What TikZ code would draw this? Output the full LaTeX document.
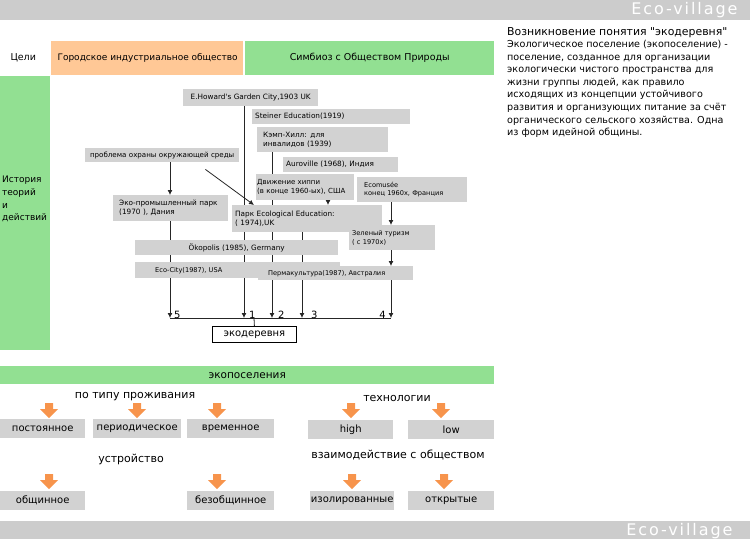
\documentclass[tikz,border=0pt]{standalone}
\usepackage{fontspec}
\setmainfont{DejaVu Sans}[Ligatures=TeXOff]
\newfontfamily\bannerfont[LetterSpace=12]{DejaVu Sans}
\usetikzlibrary{arrows.meta, calc, backgrounds}
\definecolor{bargray}{RGB}{204,204,204}
\definecolor{boxgray}{RGB}{210,210,210}
\definecolor{peach}{RGB}{255,200,150}
\definecolor{leafgreen}{RGB}{146,224,146}
\definecolor{arroworange}{RGB}{247,148,76}
\tikzset{
  band/.style={anchor=north west, inner sep=0pt, draw=none},
  gbox/.style={anchor=north west, fill=boxgray, draw=none, inner xsep=3pt, inner ysep=0pt, align=left, font=\fontsize{7.3}{9}\selectfont},
  smallbox/.style={gbox, font=\fontsize{6.6}{8.5}\selectfont},
  cbox/.style={anchor=north west, fill=boxgray, draw=none, inner sep=0pt, minimum height=19pt, font=\fontsize{10}{12}\selectfont},
  headtext/.style={font=\fontsize{11}{13}\selectfont},
  numlabel/.style={font=\fontsize{10}{10}\selectfont, inner sep=0pt},
  arrow/.style={-{Latex[length=5pt,width=5pt]}, line width=0.8pt, draw=black!85},
  link/.style={line width=0.8pt, draw=black!85},
  downarrow/.pic={\fill[arroworange] (-4,0) -- (4,0) -- (4,6) -- (9,6) -- (0,15) -- (-9,6) -- (-4,6) -- cycle;}
}
\begin{document}
\begin{tikzpicture}[x=1pt, y=-1pt]
\useasboundingbox (0,0) rectangle (750,539);

% header and footer bars
\fill[bargray] (0,0) rectangle (750,20);
\node[anchor=east, text=white, font=\bannerfont\fontsize{16}{16}\selectfont] (toptitle) at (741,10) {Eco-village};
\fill[bargray] (0,521) rectangle (750,539);
\node[anchor=east, text=white, font=\bannerfont\fontsize{16}{16}\selectfont] (bottomtitle) at (736,531) {Eco-village};

% goals row
\node[anchor=west, font=\fontsize{9.5}{11}\selectfont] (goals) at (7,58) {Цели};
\node[band, fill=peach, minimum width=192pt, minimum height=34pt] (industrial) at (51,41) {};
\node[anchor=west, font=\fontsize{9}{11}\selectfont] (industrialtext) at (54,58) {Городское индустриальное общество};
\node[band, fill=leafgreen, minimum width=249pt, minimum height=34pt, font=\fontsize{9.5}{11}\selectfont] (symbiosis) at (245,41) {Симбиоз с Обществом Природы};

% history column
\node[band, fill=leafgreen, minimum width=50pt, minimum height=274pt] (historycol) at (0,76) {};
\node[anchor=north west, align=left, inner sep=0pt, font=\fontsize{9}{12.7}\selectfont] (history) at (2,176) {История\\теорий\\и\\действий};

% definition text
\node[anchor=north west, inner sep=0pt, font=\fontsize{10.9}{12}\selectfont] (deftitle) at (507,27) {Возникновение понятия "экодеревня"};
\node[anchor=north west, align=left, inner sep=0pt, font=\fontsize{9.6}{12.6}\selectfont] (definition) at (507,40) {Экологическое поселение (экопоселение) -\\поселение, созданное для организации\\экологически чистого пространства для\\жизни группы людей, как правило\\исходящих из концепции устойчивого\\развития и организующих питание за счёт\\органического сельского хозяйства. Одна\\из форм идейной общины.};

% history boxes
\node[gbox, text width=129pt, minimum height=17pt, align=center] (howard) at (183,89) {E.Howard's Garden City,1903 UK};
\node[gbox, text width=152pt, minimum height=15pt] (steiner) at (252,109) {Steiner Education(1919)};
\node[gbox, inner xsep=6pt, text width=119pt, minimum height=25pt] (camphill) at (257,127) {Кэмп-Хилл: для\\инвалидов (1939)};
\node[gbox, text width=109pt, minimum height=15pt] (auroville) at (283,157) {Auroville (1968), Индия};
\node[gbox, inner xsep=1pt, text width=96pt, minimum height=26pt, font=\fontsize{7}{9}\selectfont] (hippie) at (256,174) {Движение хиппи\\(в конце 1960-ых), США};
\node[smallbox, inner xsep=7pt, text width=96pt, minimum height=25pt] (ecomusee) at (357,177) {Ecomusée\\конец 1960х, Франция};
\node[gbox, inner xsep=1pt, text width=152pt, minimum height=14pt, align=center, font=\fontsize{7.1}{9}\selectfont] (problem) at (85,148) {проблема охраны окружающей среды};
\node[gbox, inner xsep=6pt, text width=103pt, minimum height=26pt] (ecopark) at (113,195) {Эко-промышленный парк\\(1970 ), Дания};
\node[gbox, text width=144pt, minimum height=27pt] (park) at (232,205) {Парк Ecological Education:\\( 1974),UK};
\node[smallbox, text width=80pt, minimum height=25pt] (greentour) at (349,225) {Зеленый туризм\\ ( с 1970х)};
\node[gbox, text width=197pt, minimum height=15pt, align=center] (okopolis) at (135,240) {Ökopolis (1985), Germany};
\node[smallbox, inner xsep=0pt, text width=205pt, minimum height=16pt] (ecocity) at (135,262) {\hspace{20pt}Eco-City(1987), USA};
\node[smallbox, inner xsep=10pt, text width=135pt, minimum height=14pt] (perma) at (258,266) {Пермакультура(1987), Австралия};

% result
\node[anchor=north west, draw=black, fill=white, line width=0.8pt, minimum width=84pt, minimum height=16pt, inner sep=0pt, font=\fontsize{10}{12}\selectfont] (ecovillage) at (212,326) {экодеревня};

% bus coordinates
\coordinate (bus5) at (170,318);
\coordinate (bus1) at (244,318);
\coordinate (bus2) at (272,318);
\coordinate (bus3) at (302,318);
\coordinate (bus4) at (391,318);
\coordinate (busmid) at (254,318);

\begin{pgfonlayer}{background}
\draw[arrow] (problem.south -| bus5) -- (ecopark.north -| bus5);
\draw[arrow] (ecopark.south -| bus5) -- (bus5);
\draw[arrow] ($(problem.south east)+(-34,7)$) -- ($(park.north west)+(22,0)$);
\draw[arrow] (howard.south -| bus1) -- (bus1);
\draw[arrow] (camphill.south -| bus2) -- (bus2);
\draw[arrow] ($(hippie.south west)+(72,0)$) -- ($(park.north west)+(96,0)$);
\draw[arrow] (park.south -| bus3) -- (bus3);
\draw[arrow] (ecomusee.south -| bus4) -- (greentour.north -| bus4);
\draw[arrow] (greentour.south -| bus4) -- (perma.north -| bus4);
\draw[arrow] (perma.south -| bus4) -- (bus4);
\end{pgfonlayer}
\draw[link] (bus5) -- (bus4);
\draw[link] (busmid) -- (ecovillage.north);

\node[numlabel, anchor=south west] (num5) at ([xshift=4pt, yshift=-1pt]bus5) {5};
\node[numlabel, anchor=south west] (num1) at ([xshift=5pt, yshift=-1pt]bus1) {1};
\node[numlabel, anchor=south west] (num2) at ([xshift=6pt, yshift=-1pt]bus2) {2};
\node[numlabel, anchor=south west] (num3) at ([xshift=9pt, yshift=-1pt]bus3) {3};
\node[numlabel, anchor=south east] (num4) at ([xshift=-5pt, yshift=-1pt]bus4) {4};

% classification of eco-settlements
\node[band, fill=leafgreen, minimum width=494pt, minimum height=18pt, font=\fontsize{10.5}{12}\selectfont] (settlements) at (0,366) {экопоселения};
\node[headtext] (byliving) at (135,397) {по типу проживания};
\node[headtext] (technology) at (397,398) {технологии};
\node[headtext] (structure) at (131,459) {устройство};
\node[headtext] (interaction) at (398,455) {взаимодействие с обществом};

\foreach \nm/\px/\py in {pa1/49/403, pa2/137/403, pa3/217/403, pa4/351/403, pa5/441/403,
                         pb1/49/474, pb2/217/474, pb3/352/474, pb4/444/474}
  \pic (\nm) at (\px,\py) {downarrow};

\node[cbox, minimum width=85pt] (permanent) at (0,419) {постоянное};
\node[cbox, minimum width=88pt] (periodic) at (93,419) {периодическое};
\node[cbox, minimum width=87pt] (temporary) at (187,419) {временное};
\node[cbox, minimum width=85pt] (high) at (308,420) {high};
\node[cbox, minimum width=86pt] (low) at (408,420) {low};

\node[cbox, minimum width=85pt] (communal) at (0,491) {общинное};
\node[cbox, minimum width=87pt] (noncommunal) at (187,491) {безобщинное};
\node[cbox, minimum width=84pt] (isolated) at (310,491) {изолированные};
\node[cbox, minimum width=86pt] (open) at (408,491) {открытые};

\end{tikzpicture}
\end{document}
